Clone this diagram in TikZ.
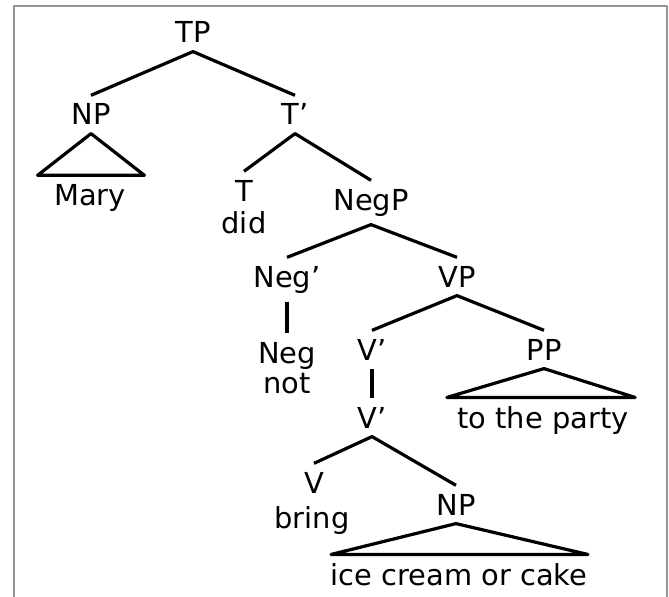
\documentclass[tikz,border=0pt]{standalone}
\usepackage{fontspec}
\setmainfont{DejaVu Sans}
\begin{document}
\begin{tikzpicture}[x=1bp,y=-1bp,line width=3.2bp,line join=round,
    every node/.style={anchor=base,inner xsep=0bp,inner ysep=7bp,font=\fontsize{29}{31}\selectfont}]
            \useasboundingbox (0,0) rectangle (669,597);
            \draw[line width=1.5bp,gray!85] (14,597) -- (14,6) -- (667,6) -- (667,597);
            % labels
            \node (TP) at (193,43) {TP};
            \node (NPa) at (91,125) {NP};
            \node (Tbar) at (295,125) {T’};
            \node (Mary) at (90,205) {Mary};
            \node (T) at (244,201) {T};
            \node (did) at (244,233) {did};
            \node (NegP) at (371,210) {NegP};
            \node (Negbar) at (287,287) {Neg’};
            \node (VP) at (457,287) {VP};
            \node (Neg) at (287,363) {Neg};
            \node (not) at (287,393) {not};
            \node (Vbara) at (372,360) {V’};
            \node (PP) at (544,360) {PP};
            \node (Vbarb) at (372,428) {V’};
            \node (party) at (543,428) {to the party};
            \node (V) at (314,493) {V};
            \node (bring) at (312,528) {bring};
            \node (NPb) at (456,515) {NP};
            \node (cake) at (459,585) {ice cream or cake};
            % branches
            \draw (NPa.north) -- (TP.south) -- (Tbar.north);
            \draw (T.north) -- (Tbar.south) -- (NegP.north);
            \draw (Negbar.north) -- (NegP.south) -- (VP.north);
            \draw (Negbar.south) -- (Neg.north);
            \draw (Vbara.north) -- (VP.south) -- (PP.north);
            \draw (Vbara.south) -- (Vbarb.north);
            \draw (V.north) -- (Vbarb.south) -- (NPb.north);
            % triangles
            \draw (NPa.south) -- ([xshift=-15bp]Mary.north west) -- ([xshift=17bp]Mary.north east) -- cycle;
            \draw (PP.south) -- ([xshift=-9bp]party.north west) -- ([xshift=5bp]party.north east) -- cycle;
            \draw (NPb.south) -- ([xshift=2bp]cake.north west) -- ([xshift=-1bp]cake.north east) -- cycle;
        \end{tikzpicture}
\end{document}
